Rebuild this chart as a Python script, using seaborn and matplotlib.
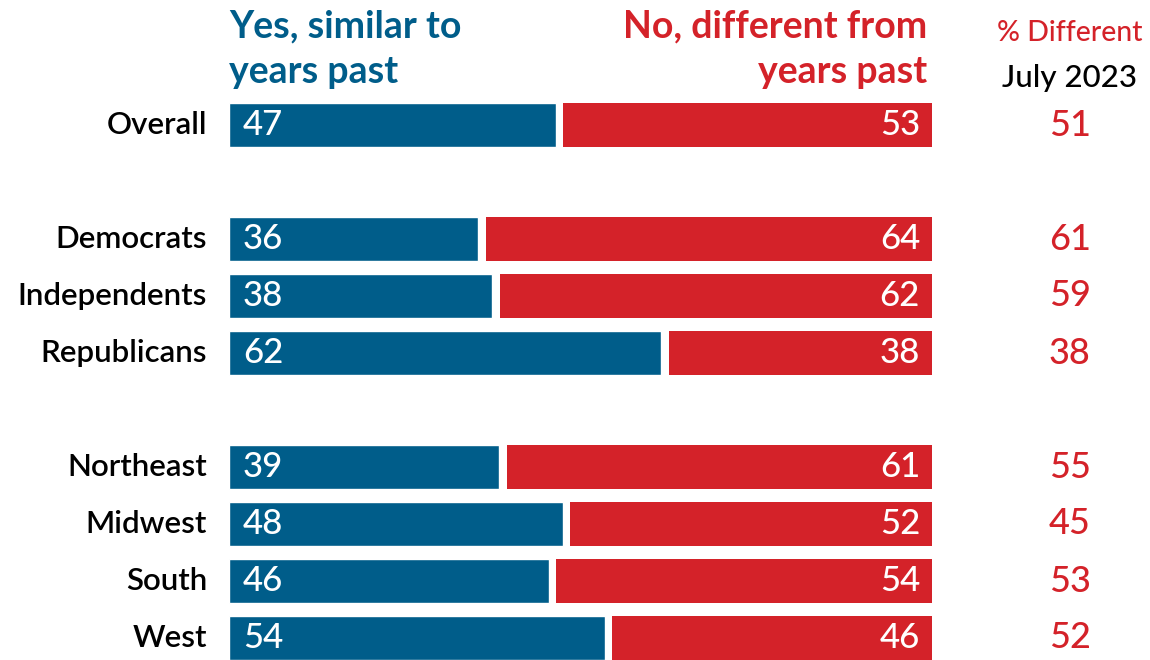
import matplotlib
matplotlib.use("Agg")
import matplotlib.pyplot as plt
import seaborn as sns
import pandas as pd

# Data
groups = ["Overall", "Democrats", "Independents", "Republicans",
          "Northeast", "Midwest", "South", "West"]
row_pos = [0, 2, 3, 4, 6, 7, 8, 9]          # blank rows separate the blocks
yes_similar = [47, 36, 38, 62, 39, 48, 46, 54]
no_different = [53, 64, 62, 38, 61, 52, 54, 46]
pct_different_jul23 = [51, 61, 59, 38, 55, 45, 53, 52]

BLUE = "#005D8A"
RED = "#D42229"
GAP = 1.1        # white gap between the two segments, in percentage points
BAR_H = 0.77

sns.set_theme(style="white")
plt.rcParams["font.family"] = ["Lato", "DejaVu Sans"]

df = pd.DataFrame({
    "group": groups,
    "pos": row_pos,
    "yes": yes_similar,
    "no": no_different,
    "jul": pct_different_jul23,
})
df["yes_w"] = df["yes"] - GAP / 2
df["no_left"] = df["yes"] + GAP / 2
df["no_w"] = df["no"] - GAP / 2

fig = plt.figure(figsize=(11.5, 6.6), dpi=100)
ax = fig.add_axes([229 / 1150, 0, 703 / 1150, 1])

sns.barplot(data=df, x="yes_w", y="pos", orient="h", native_scale=True,
            color=BLUE, width=BAR_H, errorbar=None, saturation=1, ax=ax)
ax.barh(df["pos"], df["no_w"], left=df["no_left"], height=BAR_H,
        color=RED, linewidth=0)

ax.set_xlim(0, 100)
ax.set_ylim((660 - 125) / 57, -125 / 57)
ax.axis("off")

for _, r in df.iterrows():
    ax.text(-3.1, r["pos"], r["group"], ha="right", va="center",
            fontsize=22.5, color="black", fontweight="semibold", clip_on=False)
    ax.text(2.0, r["pos"], f"{r['yes']}", ha="left", va="center",
            fontsize=25, color="white", fontweight="medium")
    ax.text(98.3, r["pos"], f"{r['no']}", ha="right", va="center",
            fontsize=25, color="white", fontweight="medium")
    ax.text(119.6, r["pos"], f"{r['jul']}", ha="center", va="center",
            fontsize=26, color=RED, fontweight="medium", clip_on=False)

# column headers, one text per line
head_kw = dict(fontsize=27, fontweight="bold", va="baseline", clip_on=False)
ax.text(0, -1.544, "Yes, similar to", ha="left", color=BLUE, **head_kw)
ax.text(0, -0.737, "years past", ha="left", color=BLUE, **head_kw)
ax.text(99.3, -1.544, "No, different from", ha="right", color=RED, **head_kw)
ax.text(99.3, -0.737, "years past", ha="right", color=RED, **head_kw)

ax.text(119.6, -1.61, "% Different", ha="center", va="center",
        fontsize=20.5, color=RED, fontweight="medium", clip_on=False)
ax.text(119.6, -0.82, "July 2023", ha="center", va="center",
        fontsize=22.5, color="black", fontweight="medium", clip_on=False)

fig.savefig("out.png", dpi=100)
